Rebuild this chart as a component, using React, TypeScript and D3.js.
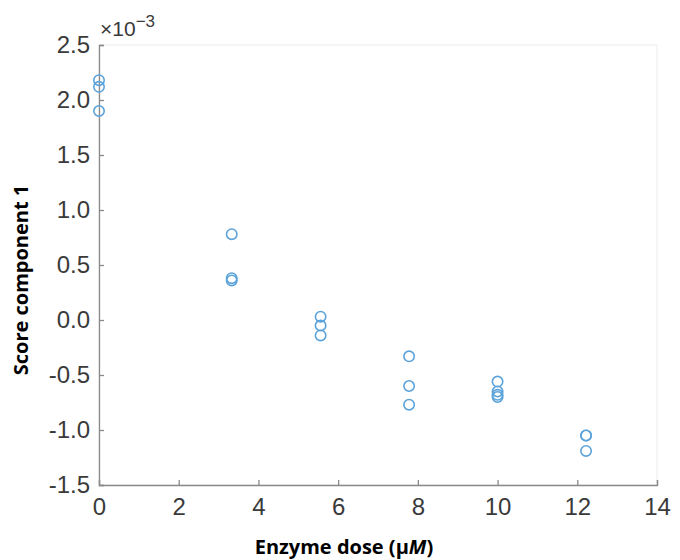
import React, { useEffect, useRef } from "react";
import * as d3 from "d3";

// doses (uM) and score component 1 values (x1e-3)
const doses = [0, 0, 0, 3.33, 3.33, 3.33, 5.56, 5.56, 5.56, 7.78, 7.78, 7.78, 10, 10, 10, 10, 12.22, 12.22, 12.22];
const scores = [2.18, 2.12, 1.9, 0.78, 0.38, 0.36, 0.03, -0.05, -0.14, -0.33, -0.6, -0.77, -0.56, -0.65, -0.68, -0.7, -1.05, -1.05, -1.19];
const xTicks = [0, 2, 4, 6, 8, 10, 12, 14];
const yTicks = [-1.5, -1.0, -0.5, 0.0, 0.5, 1.0, 1.5, 2.0, 2.5];

const W = 680;
const H = 560;
const m = { left: 99, right: 23, top: 45, bottom: 75 };

const App = () => {
  const svgRef = useRef<SVGSVGElement>(null);

  useEffect(() => {
    const svg = d3.select(svgRef.current);
    svg.selectAll("*").remove();

    const x = d3.scaleLinear().domain([0, 14]).range([m.left, W - m.right]);
    const y = d3.scaleLinear().domain([-1.5e-3, 2.5e-3]).range([H - m.bottom, m.top]);

    // light box
    svg
      .append("rect")
      .attr("x", x(0))
      .attr("y", y(2.5e-3))
      .attr("width", x(14) - x(0))
      .attr("height", y(-1.5e-3) - y(2.5e-3))
      .attr("fill", "none")
      .attr("stroke", "#ececec");

    const xAxis = d3
      .axisBottom(x)
      .tickValues(xTicks)
      .tickSize(-5)
      .tickPadding(13)
      .tickFormat((d) => String(d));
    const gx = svg
      .append("g")
      .attr("transform", `translate(0,${y(-1.5e-3)})`)
      .call(xAxis);

    const yAxis = d3
      .axisLeft(y)
      .tickValues(yTicks.map((v) => v * 1e-3))
      .tickSize(-5)
      .tickPadding(9)
      .tickFormat((d) => (+d / 1e-3).toFixed(1).replace("-0.0", "0.0"));
    const gy = svg.append("g").attr("transform", `translate(${x(0)},0)`).call(yAxis);

    [gx, gy].forEach((g) => {
      g.select(".domain").attr("stroke", "#8a8a8a").attr("stroke-width", 1.3);
      g.selectAll(".tick line").attr("stroke", "#8a8a8a").attr("stroke-width", 1.3);
      g.selectAll(".tick text")
        .attr("fill", "#3a3a3a")
        .style("font-family", "'Liberation Sans', Arial, sans-serif")
        .style("font-size", "24px");
    });

    // exponent
    const ex = svg
      .append("text")
      .attr("x", x(0) + 1)
      .attr("y", 36)
      .attr("fill", "#3a3a3a")
      .style("font-family", "'Liberation Sans', Arial, sans-serif")
      .style("font-size", "21px");
    ex.append("tspan").text("\u00d710");
    ex.append("tspan").attr("dy", -9).style("font-size", "17px").text("\u22123");

    svg
      .append("g")
      .selectAll("circle")
      .data(doses)
      .join("circle")
      .attr("cx", (d) => x(d))
      .attr("cy", (_, i) => y(scores[i] * 1e-3))
      .attr("r", 5.2)
      .attr("fill", "none")
      .attr("stroke", "#5ba3da")
      .attr("stroke-width", 1.6);

    svg
      .append("text")
      .attr("x", 344)
      .attr("y", 554)
      .attr("text-anchor", "middle")
      .style("font-family", "'Open Sans', sans-serif")
      .style("font-weight", "bold")
      .style("font-size", "20px")
      .selectAll("tspan")
      .data(["Enzyme dose (\u03bc", "M", ")"])
      .join("tspan")
      .style("font-style", (d) => (d === "M" ? "italic" : "normal"))
      .text((d) => d);

    svg
      .append("text")
      .attr("transform", `translate(28,280) rotate(-90)`)
      .attr("text-anchor", "middle")
      .style("font-family", "'Open Sans', sans-serif")
      .style("font-weight", "bold")
      .style("font-size", "20px")
      .text("Score component 1");
  }, []);

  return (
    <div style={{ position: "absolute", left: 0, top: 0 }}>
      <svg ref={svgRef} width={W} height={H} style={{ display: "block", background: "#fff" }} />
    </div>
  );
};

export default App;
